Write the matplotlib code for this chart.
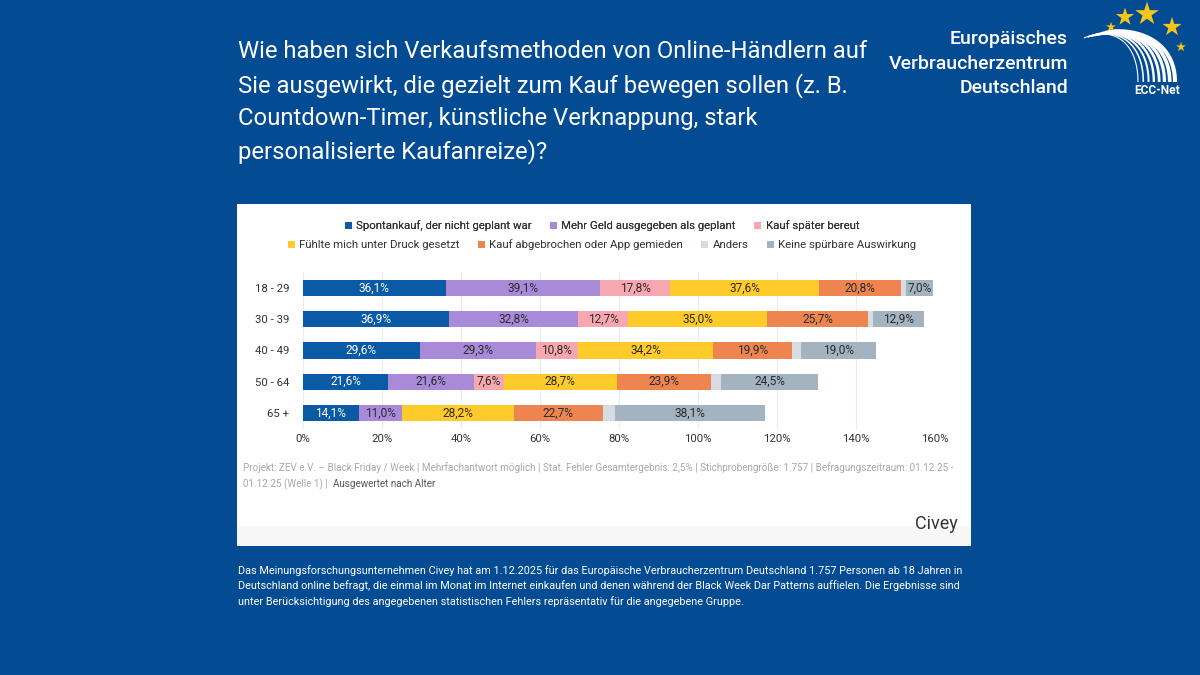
import matplotlib
matplotlib.use('Agg')
import matplotlib.pyplot as plt
from matplotlib.patches import Rectangle
import numpy as np

plt.rcParams['font.family'] = ['Roboto', 'DejaVu Sans']

# Altersgruppen und Antworten (in %)
age_groups = ["18 - 29", "30 - 39", "40 - 49", "50 - 64", "65 +"]
series_names = [
    "Spontankauf, der nicht geplant war",
    "Mehr Geld ausgegeben als geplant",
    "Kauf später bereut",
    "Fühlte mich unter Druck gesetzt",
    "Kauf abgebrochen oder App gemieden",
    "Anders",
    "Keine spürbare Auswirkung",
]
spontankauf = [36.1, 36.9, 29.6, 21.6, 14.1]
mehr_geld = [39.1, 32.8, 29.3, 21.6, 11.0]
spaeter_bereut = [17.8, 12.7, 10.8, 7.6, 0.0]
druck = [37.6, 35.0, 34.2, 28.7, 28.2]
abgebrochen = [20.8, 25.7, 19.9, 23.9, 22.7]
anders = [1.2, 1.2, 2.3, 2.5, 2.9]
keine = [7.0, 12.9, 19.0, 24.5, 38.1]
x_ticks = [0, 20, 40, 60, 80, 100, 120, 140, 160]

colors = ["#0b5aa6", "#a98ad9", "#f6a7b0", "#ffcb2b", "#ee8450", "#d6dce1", "#a3b3c0"]
text_colors = ["white", "#2b2b2b", "#2b2b2b", "#2b2b2b", "#2b2b2b", "#2b2b2b", "#2b2b2b"]

BG = "#034b93"
W, H = 1200, 675


def fx(px):
    return px / W


def fy(py):
    return 1 - py / H


def main():
    fig = plt.figure(figsize=(12, 6.75), dpi=100)
    fig.patch.set_facecolor(BG)

    # Hintergrund-Achse in Pixelkoordinaten
    bg = fig.add_axes([0, 0, 1, 1], zorder=0)
    bg.set_xlim(0, W)
    bg.set_ylim(H, 0)
    bg.set_axis_off()

    # weiße Karte
    bg.add_patch(Rectangle((237, 204), 734, 342, facecolor="white", edgecolor="none"))
    bg.add_patch(Rectangle((237, 526), 734, 20, facecolor="#f7f7f7", edgecolor="none"))

    # Titel
    title = ("Wie haben sich Verkaufsmethoden von Online-Händlern auf\n"
             "Sie ausgewirkt, die gezielt zum Kauf bewegen sollen (z. B.\n"
             "Countdown-Timer, künstliche Verknappung, stark\n"
             "personalisierte Kaufanreize)?")
    bg.text(238, 40, title, color="white", fontsize=17.2, va="top", ha="left",
            linespacing=1.5)

    # Logo-Text
    bg.text(1068, 30, "Europäisches\nVerbraucherzentrum\nDeutschland", color="white",
            fontsize=14, ha="right", va="top", linespacing=1.47, fontweight="medium")
    draw_logo(bg)

    # Fußnoten in der Karte
    fn = 7.1
    bg.text(243, 468, "Projekt: ZEV e.V. – Black Friday / Week | Mehrfachantwort möglich | "
            "Stat. Fehler Gesamtergebnis: 2,5% | Stichprobengröße: 1.757 | "
            "Befragungszeitraum: 01.12.25 -", color="#a8a8a8", fontsize=fn,
            ha="left", va="center")
    t = bg.text(243, 484, "01.12.25 (Welle 1) |  ", color="#a8a8a8", fontsize=fn,
                ha="left", va="center")
    fig.canvas.draw()
    bb = t.get_window_extent().transformed(bg.transData.inverted())
    bg.text(bb.x1, 484, "Ausgewertet nach Alter", color="#555555", fontsize=fn,
            ha="left", va="center")
    bg.text(958, 524, "Civey", color="#333333", fontsize=13, ha="right", va="center")

    # Beschreibung unten
    desc = ("Das Meinungsforschungsunternehmen Civey hat am 1.12.2025 für das Europäische "
            "Verbraucherzentrum Deutschland 1.757 Personen ab 18 Jahren in\n"
            "Deutschland online befragt, die einmal im Monat im Internet einkaufen und denen "
            "während der Black Week Dar Patterns auffielen. Die Ergebnisse sind\n"
            "unter Berücksichtigung des angegebenen statistischen Fehlers repräsentativ für "
            "die angegebene Gruppe.")
    bg.text(238, 565, desc, color="white", fontsize=7.8, ha="left", va="top",
            linespacing=1.5)

    # Diagramm
    top_px, bot_px = 288 - 15.6, 413 + 15.6
    ax = fig.add_axes([fx(303), fy(bot_px), fx(935) - fx(303), (bot_px - top_px) / H],
                      zorder=1)
    ax.patch.set_alpha(0)
    y = np.arange(len(age_groups))
    data = [spontankauf, mehr_geld, spaeter_bereut, druck, abgebrochen, anders, keine]
    left = np.zeros(len(age_groups))
    handles = []
    for vals, name, c, tc in zip(data, series_names, colors, text_colors):
        vals = np.array(vals)
        bars = ax.barh(y, vals, left=left, height=0.52, color=c, label=name,
                       edgecolor="none", zorder=2)
        handles.append(bars)
        for yi, v, l in zip(y, vals, left):
            if v >= 5 and name != "Anders":
                ax.text(l + v / 2, yi, f"{v:.1f}%".replace(".", ","), ha="center",
                        va="center", fontsize=8.6, color=tc, zorder=3)
        left = left + vals

    ax.set_xlim(0, 160)
    ax.set_ylim(len(age_groups) - 0.5, -0.5)
    ax.set_yticks(y)
    ax.set_yticklabels(age_groups)
    ax.set_xticks(x_ticks)
    ax.set_xticklabels([f"{v}%" for v in x_ticks])
    ax.tick_params(length=0, labelsize=8.2, colors="#333333")
    ax.tick_params(axis="y", pad=10)
    ax.tick_params(axis="x", pad=4)
    for s in ax.spines.values():
        s.set_visible(False)
    ax.grid(axis="x", color="#ececec", linewidth=0.8, zorder=0)
    ax.set_axisbelow(True)

    # Legende in zwei Zeilen
    leg_kw = dict(frameon=False, fontsize=8.2, handlelength=0.6, handleheight=0.6,
                  handletextpad=0.4, columnspacing=1.6, labelcolor="#333333")
    leg1 = fig.legend(handles[:3], series_names[:3], loc="center",
                      bbox_to_anchor=(fx(602), fy(226)), ncol=3, **leg_kw)
    fig.legend(handles[3:], series_names[3:], loc="center",
               bbox_to_anchor=(fx(602), fy(245)), ncol=4, **leg_kw)
    fig.add_artist(leg1)

    fig.savefig("out.png", dpi=100, facecolor=BG)


def draw_logo(ax):
    # Linienbündel des ECC-Net-Logos als Bezierkurven
    s = np.linspace(0, 1, 60)
    ends = np.linspace(1138, 1175, 8)
    for i, xe in enumerate(ends):
        p0 = np.array([1084 + i * 3.5, 38 - i * 0.9])
        p1 = np.array([p0[0] + 0.5 * (xe - p0[0]), 26 + i * 0.3])
        p2 = np.array([xe, 40 + i * 0.5])
        p3 = np.array([xe, 82])
        pts = ((1 - s) ** 3)[:, None] * p0 + (3 * (1 - s) ** 2 * s)[:, None] * p1 \
            + (3 * (1 - s) * s ** 2)[:, None] * p2 + (s ** 3)[:, None] * p3
        ax.plot(pts[:, 0], pts[:, 1], color="white", linewidth=0.8 + i * 0.3,
                solid_capstyle="butt")
    # Sterne
    for (sx, sy, ss) in [(1111, 27, 55), (1125, 17, 190), (1147, 14, 320),
                         (1172, 27, 210), (1181, 47, 55)]:
        ax.scatter(sx, sy, marker="*", s=ss, color="#f5c518", zorder=5,
                   edgecolors="none")
    ax.text(1157, 91, "ECC-Net", color="white", fontsize=8.6, fontweight="bold",
            ha="center", va="center")


if __name__ == "__main__":
    main()
